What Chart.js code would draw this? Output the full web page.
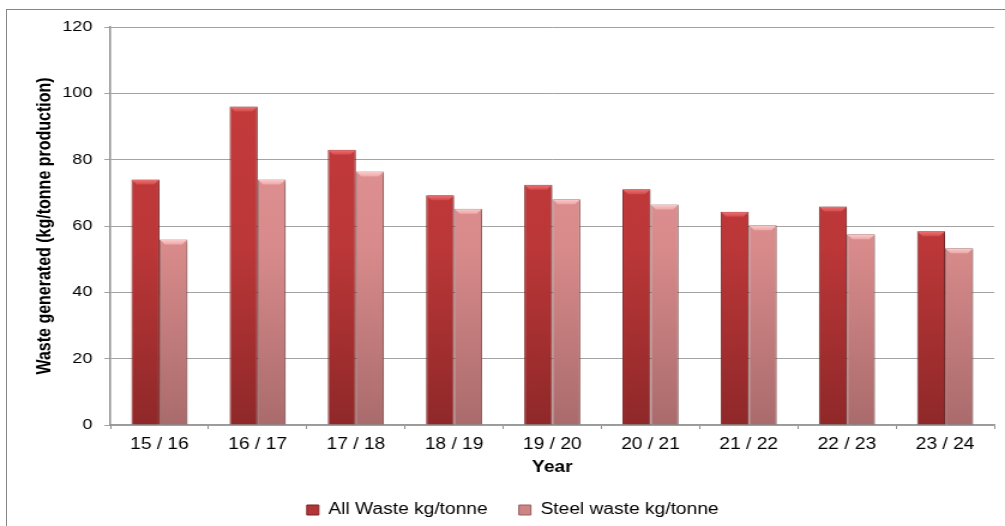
<!DOCTYPE html>
<html lang="en">
<head>
  <meta charset="UTF-8" />
  <title>Waste generated per tonne</title>
  <script src="https://cdn.jsdelivr.net/npm/chart.js"></script>
  <style>
    html, body {
      margin: 0;
      padding: 0;
      background: #fff;
      overflow: hidden;
    }
    .frame {
      position: absolute;
      left: 6px;
      top: 9px;
      width: 1100px;
      height: 600px;
      border-left: 1px solid #858585;
      border-top: 1px solid #858585;
    }
    /* the original picture is stretched horizontally, so draw narrow and widen */
    #wasteChart {
      position: absolute;
      left: 0;
      top: 0;
      display: block;
      transform: scaleX(1.1993);
      transform-origin: 0 0;
    }
  </style>
</head>
<body>
  <div class="frame"></div>
  <canvas id="wasteChart" width="838" height="526"></canvas>

  <script>
    const years = ['15 / 16', '16 / 17', '17 / 18', '18 / 19', '19 / 20', '20 / 21', '21 / 22', '22 / 23', '23 / 24'];
    const allWaste = [74, 96, 83, 69.3, 72.4, 71.1, 64.3, 65.9, 58.4];
    const steelWaste = [55.9, 74, 76.4, 65.2, 68.1, 66.5, 60.2, 57.5, 53.3];
    const yTicks = [0, 20, 40, 60, 80, 100, 120];

    const FONT = "'Liberation Sans', Arial, sans-serif";

    // vertical shading from top of plot to the axis
    function shade(stops) {
      return (context) => {
        const chart = context.chart;
        const area = chart.chartArea;
        if (!area) return stops[stops.length - 1][1];
        const g = chart.ctx.createLinearGradient(0, area.top, 0, area.bottom);
        stops.forEach(s => g.addColorStop(s[0], s[1]));
        return g;
      };
    }

    const bevelColors = [
      ['#ee7474', '#d24a4b'],
      ['#fccccc', '#eca8a8']
    ];

    // small light bevel on top of each bar, plus a soft shadow
    const barLook = {
      id: 'barLook',
      beforeDatasetsDraw(chart) {
        const ctx = chart.ctx;
        ctx.save();
        ctx.shadowColor = 'rgba(0,0,0,0.28)';
        ctx.shadowBlur = 3;
        ctx.shadowOffsetX = 1.5;
        ctx.shadowOffsetY = 1;
      },
      afterDatasetsDraw(chart) {
        const ctx = chart.ctx;
        ctx.restore();
        chart.data.datasets.forEach((ds, di) => {
          const meta = chart.getDatasetMeta(di);
          meta.data.forEach((bar) => {
            const p = bar.getProps(['x', 'y', 'width'], true);
            const l = p.x - p.width / 2 + 0.5;
            const r = p.x + p.width / 2 - 0.5;
            const h = 5;
            const inset = 4;
            const g = ctx.createLinearGradient(0, p.y, 0, p.y + h);
            g.addColorStop(0, bevelColors[di][0]);
            g.addColorStop(1, bevelColors[di][1]);
            ctx.save();
            ctx.fillStyle = g;
            ctx.beginPath();
            ctx.moveTo(l, p.y + 0.5);
            ctx.lineTo(r, p.y + 0.5);
            ctx.lineTo(r - inset, p.y + h);
            ctx.lineTo(l + inset, p.y + h);
            ctx.closePath();
            ctx.fill();
            ctx.restore();
          });
        });
      },
      afterLayout(chart) {
        // legend sits a little right of the canvas centre in the original
        chart.legend.left += 13;
        chart.legend.right += 13;
      }
    };

    const legendFill = ['#b33536', '#cc8485'];
    const legendLine = ['#7c2223', '#9b5e5f'];

    const ctx = document.getElementById('wasteChart').getContext('2d');
    const wasteChart = new Chart(ctx, {
      type: 'bar',
      data: {
        labels: years,
        datasets: [
          {
            label: 'All Waste kg/tonne',
            data: allWaste,
            backgroundColor: shade([[0, '#c83c3d'], [0.55, '#bc3738'], [1, '#8f2829']]),
            borderColor: '#8a2a2b',
            borderWidth: 1,
            categoryPercentage: 0.571,
            barPercentage: 1
          },
          {
            label: 'Steel waste kg/tonne',
            data: steelWaste,
            backgroundColor: shade([[0, '#e59897'], [0.55, '#d98b8b'], [1, '#aa6b6c']]),
            borderColor: '#a46a6b',
            borderWidth: 1,
            categoryPercentage: 0.571,
            barPercentage: 1
          }
        ]
      },
      options: {
        responsive: false,
        animation: false,
        devicePixelRatio: 1,
        layout: {
          padding: { top: 27, right: 9, bottom: -2, left: 0 }
        },
        plugins: {
          tooltip: { enabled: false },
          legend: {
            position: 'bottom',
            labels: {
              boxWidth: 10,
              boxHeight: 10,
              padding: 26,
              color: '#000',
              font: { family: FONT, size: 16 },
              generateLabels(chart) {
                const items = Chart.defaults.plugins.legend.labels.generateLabels(chart);
                items.forEach((it, i) => {
                  it.fillStyle = legendFill[i];
                  it.strokeStyle = legendLine[i];
                  it.lineWidth = 1;
                });
                return items;
              }
            }
          }
        },
        scales: {
          x: {
            grid: {
              display: true,
              drawOnChartArea: false,
              drawTicks: true,
              tickLength: 4,
              color: '#8c8c8c'
            },
            border: { color: '#9a9a9a', width: 1.5 },
            ticks: {
              color: '#000',
              padding: 8,
              font: { family: FONT, size: 16, lineHeight: 1 }
            },
            title: {
              display: true,
              text: 'Year',
              color: '#000',
              padding: { top: -1, bottom: 0 },
              font: { family: FONT, size: 16, weight: 'bold', lineHeight: 1 }
            }
          },
          y: {
            min: 0,
            max: 120,
            afterBuildTicks(scale) {
              scale.ticks = yTicks.map(v => ({ value: v }));
            },
            afterFit(scale) {
              scale.width = 92;
            },
            grid: {
              color: '#a3a3a3',
              lineWidth: 1,
              tickLength: 5
            },
            border: { color: '#8c8c8c', width: 1.5 },
            ticks: {
              color: '#000',
              padding: 10,
              font: { family: FONT, size: 15 }
            },
            title: {
              display: true,
              text: 'Waste generated (kg/tonne production)',
              color: '#000',
              padding: { top: 28, bottom: 0 },
              font: { family: FONT, size: 16, weight: 'bold' }
            }
          }
        }
      },
      plugins: [barLook]
    });
  </script>
</body>
</html>
